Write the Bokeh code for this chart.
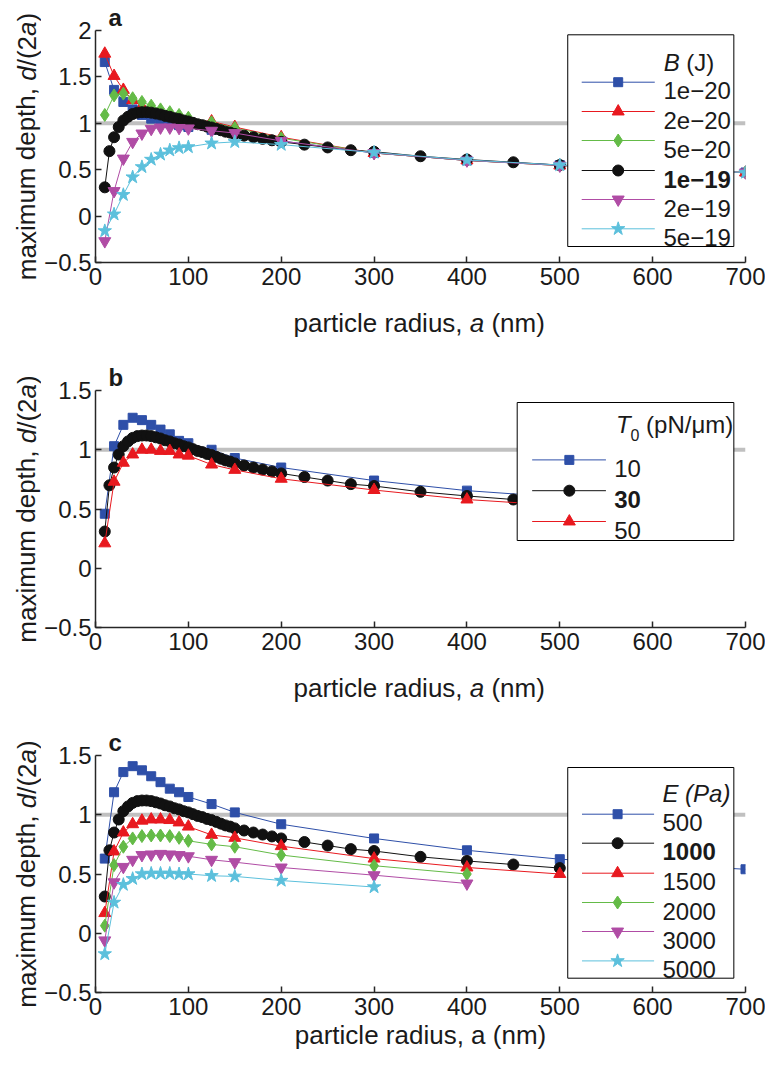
import math
from bokeh.plotting import figure
from bokeh.layouts import column, row
from bokeh.models import Range1d, FixedTicker, Span, ColumnDataSource, CustomJSTickFormatter
from bokeh.core.properties import value
from bokeh.embed import file_html
from bokeh.resources import INLINE

# ---------------- data ----------------
X_SPARSE = [10, 20, 30, 40, 50, 60, 70, 80, 90, 100, 125, 150, 200, 300, 400, 500, 700]
X_DENSE = [10, 15, 20, 25, 30, 35, 40, 45, 50, 55, 60, 65, 70, 75, 80, 85, 90, 95, 100,
           105, 110, 115, 120, 125, 130, 135, 140, 145, 150, 160, 170, 180, 190, 200,
           225, 250, 275, 300, 350, 400, 450, 500]
# reference case (B = 1e-19 J, T0 = 30 pN/um, E = 1000 Pa), shown in every panel
Y_REF = [0.31, 0.70, 0.85, 0.96, 1.03, 1.07, 1.10, 1.115, 1.12, 1.12, 1.115, 1.105, 1.095,
         1.08, 1.07, 1.055, 1.045, 1.03, 1.02, 1.005, 0.99, 0.98, 0.965, 0.955, 0.94, 0.925,
         0.91, 0.90, 0.885, 0.867, 0.85, 0.833, 0.817, 0.80, 0.77, 0.74, 0.71, 0.694, 0.645,
         0.61, 0.58, 0.55]

# panel a: B (J)
a_1e20 = [1.66, 1.36, 1.23, 1.15, 1.09, 1.05, 1.02, 1.00, 0.98, 0.96, 0.93, 0.89, 0.81, 0.68, 0.60, 0.55, 0.47]
a_2e20 = [1.75, 1.51, 1.36, 1.25, 1.18, 1.14, 1.11, 1.08, 1.06, 1.04, 1.02, 0.96, 0.85, 0.68, 0.60, 0.545, 0.47]
a_5e20 = [1.09, 1.30, 1.32, 1.27, 1.23, 1.19, 1.15, 1.12, 1.09, 1.06, 1.01, 0.95, 0.84, 0.68, 0.60, 0.545, 0.47]
a_2e19 = [-0.27, 0.27, 0.62, 0.80, 0.89, 0.94, 0.955, 0.955, 0.95, 0.945, 0.92, 0.895, 0.81, 0.68, 0.60, 0.545, 0.47]
a_5e19 = [-0.16, 0.02, 0.23, 0.42, 0.53, 0.61, 0.665, 0.71, 0.735, 0.745, 0.785, 0.80, 0.77, 0.685, 0.605, 0.55, 0.47]
a_labels = ["1e\u221220", "2e\u221220", "5e\u221220", "1e\u221219", "2e\u221219", "5e\u221219"]

# panel b: T0 (pN/um)
b_10 = [0.46, 1.03, 1.21, 1.27, 1.25, 1.21, 1.17, 1.13, 1.075, 1.055, 1.0, 0.93, 0.85, 0.74, 0.655, 0.60]
b_50 = [0.21, 0.73, 0.89, 0.96, 1.0, 1.0, 0.99, 0.99, 0.96, 0.95, 0.875, 0.83, 0.755, 0.66, 0.58, 0.53]
b_labels = ["10", "30", "50"]

# panel c: E (Pa)
c_500 = [0.63, 1.19, 1.36, 1.41, 1.375, 1.325, 1.275, 1.22, 1.19, 1.15, 1.09, 1.02, 0.92, 0.80, 0.70, 0.625, 0.54]
c_1500 = [0.17, 0.69, 0.85, 0.92, 0.95, 0.96, 0.96, 0.955, 0.935, 0.90, 0.83, 0.805, 0.735, 0.63, 0.555, 0.50]
c_2000 = [0.064, 0.575, 0.73, 0.80, 0.82, 0.825, 0.825, 0.82, 0.805, 0.78, 0.75, 0.73, 0.66, 0.57, 0.50]
c_3000 = [-0.06, 0.43, 0.56, 0.62, 0.66, 0.665, 0.67, 0.665, 0.66, 0.65, 0.62, 0.60, 0.555, 0.49, 0.42]
c_5000 = [-0.175, 0.26, 0.41, 0.46, 0.50, 0.505, 0.505, 0.505, 0.50, 0.50, 0.485, 0.48, 0.445, 0.39]
c_labels = ["500", "1000", "1500", "2000", "3000", "5000"]

X_TICKS = [0, 100, 200, 300, 400, 500, 600, 700]
X_TICK_LABELS = ["0", "100", "200", "300", "400", "500", "600", "700"]
YA_TICKS = [-0.5, 0, 0.5, 1, 1.5, 2]
YA_TICK_LABELS = ["\u22120.5", "0", "0.5", "1", "1.5", "2"]
YBC_TICKS = [-0.5, 0, 0.5, 1, 1.5]
YBC_TICK_LABELS = ["\u22120.5", "0", "0.5", "1", "1.5"]

X_TITLE = [("particle radius, ", "normal"), ("a", "italic"), (" (nm)", "normal")]
X_TITLE_PLAIN = "particle radius, a (nm)"
Y_TITLE = [("maximum depth, ", "normal"), ("d", "italic"), ("/(2", "normal"),
           ("a", "italic"), (")", "normal")]

# ---------------- style ----------------
FONT = "Liberation Sans"
FS = 24          # ticks, legends, panel letters
FT = 26          # axis titles
TXT = "#1a1a1a"
AX = "#262626"
BLUE, RED, GREEN, BLACK, MAG, CYAN = "#2e4fa8", "#e8191f", "#64bb47", "#111111", "#b04ca5", "#5cc0dc"
MK = {BLUE: ("square", 9), RED: ("triangle", 12), GREEN: ("diamond", 13),
      BLACK: ("circle", 11), MAG: ("inverted_triangle", 12), CYAN: ("star", 14)}

FW = 652
LEFT, RIGHT, BOTTOM, BOTTOM_C = 52, 20, 40, 72
MAIN_W = LEFT + FW + RIGHT
YSTRIP_W = 41
TOP_A, TOP_BC = 30, 30
FH_A, FH_B, FH_C = 232, 237, 237
H_MID = 58
XT_BELOW = 60     # baseline of the x-axis titles below the x axis

ADV = {' ': 278, ',': 278, '(': 333, ')': 333, '/': 278, 'a': 556, 'c': 500, 'd': 556,
       'e': 556, 'h': 556, 'i': 222, 'l': 222, 'm': 833, 'n': 556, 'p': 556, 'r': 333,
       's': 500, 't': 278, 'u': 556, 'x': 500, 'B': 667, 'E': 667, 'J': 500, 'N': 722,
       'P': 667, 'T': 611}


def tw(s, size=FS):
    return sum(ADV.get(ch, 556) for ch in s) * size / 1000.0


def compose(pieces, size):
    """return [(text, style, offset)] with spaces turned into offsets, and total width"""
    out, off = [], 0.0
    for txt, st in pieces:
        core = txt.strip(" ")
        lead = len(txt) - len(txt.lstrip(" "))
        out.append((core, st, off + tw(" " * lead, size)))
        off += tw(txt, size)
    return out, off


def strip(w, h, items):
    """text-only figure; items: (text, style, size_px, x, y_from_bottom, angle)"""
    s = figure(width=w, height=h, x_range=Range1d(0, w), y_range=Range1d(0, h),
               x_axis_type=None, y_axis_type=None, output_backend="svg",
               toolbar_location=None, title=None, min_border=0, min_border_left=0,
               min_border_right=0, min_border_top=0, min_border_bottom=0,
               frame_align=False)
    s.outline_line_color = None
    s.background_fill_color = "white"
    s.border_fill_color = "white"
    if items:
        src = ColumnDataSource(dict(text=[i[0] for i in items], style=[i[1] for i in items],
                                    fs=[f"{i[2]}px" for i in items], x=[i[3] for i in items],
                                    y=[i[4] for i in items], ang=[i[5] for i in items]))
        s.text(x="x", y="y", text="text", angle="ang", text_font_style="style",
               text_font_size="fs", source=src, text_font=value(FONT), text_color=TXT,
               text_align="left", text_baseline="alphabetic")
    return s


def make_fig(letter, ylo, yhi, yticks, ylabels, fh, top, bottom):
    p = figure(width=MAIN_W, height=top + fh + bottom,
               x_range=Range1d(0, 700), y_range=Range1d(ylo, yhi),
               output_backend="svg", toolbar_location=None, title=letter,
               min_border_left=LEFT, min_border_right=RIGHT,
               min_border_top=top, min_border_bottom=bottom, frame_align=False)
    p.title.align = "left"
    p.title.offset = 13
    p.title.standoff = 0
    p.title.text_font = FONT
    p.title.text_font_size = f"{FS}px"
    p.title.text_font_style = "bold"
    p.title.text_color = TXT
    p.extra_x_ranges = {"px": Range1d(0, FW)}
    p.extra_y_ranges = {"py": Range1d(fh, 0)}
    p.xgrid.visible = False
    p.ygrid.visible = False
    p.outline_line_color = None
    p.background_fill_color = "white"
    p.border_fill_color = "white"
    p.xaxis.ticker = FixedTicker(ticks=X_TICKS)
    p.yaxis.ticker = FixedTicker(ticks=yticks)
    code = ("const i = tv.findIndex(v => Math.abs(v - tick) < 1e-9);"
            "return i >= 0 ? lv[i] : String(tick);")
    p.xaxis.formatter = CustomJSTickFormatter(args=dict(tv=X_TICKS, lv=X_TICK_LABELS), code=code)
    p.yaxis.formatter = CustomJSTickFormatter(args=dict(tv=yticks, lv=ylabels), code=code)
    for ax in (p.xaxis[0], p.yaxis[0]):
        ax.axis_line_color = AX
        ax.axis_line_width = 1.5
        ax.major_tick_line_color = AX
        ax.major_tick_line_width = 1.5
        ax.major_tick_in = 6
        ax.major_tick_out = 0
        ax.minor_tick_line_color = None
        ax.major_label_text_font = FONT
        ax.major_label_text_font_size = f"{FS}px"
        ax.major_label_text_color = TXT
    p.xaxis.major_label_standoff = 5
    p.yaxis.major_label_standoff = 4
    p.add_layout(Span(location=1, dimension="width", line_color="#c0c0c0",
                      line_width=4, level="underlay"))
    return p


def plot_series(p, xs, ys, color):
    p.line(xs, ys, line_color=color, line_width=1)
    m, s = MK[color]
    p.scatter(xs, ys, marker=m, size=s, fill_color=color, line_color=color)


def draw_legend(p, box, line_x, marker_x, text_x, rows, labels, colors, bold_idx, title_items):
    l, r, t, b = box
    kw = dict(x_range_name="px", y_range_name="py")
    p.quad(left=[l], right=[r], top=[t], bottom=[b], fill_color="white",
           line_color="black", line_width=1, **kw)
    n = len(labels)
    p.segment(x0=[line_x[0]] * n, y0=rows, x1=[line_x[1]] * n, y1=rows,
              line_color=colors, line_width=1, **kw)
    src = ColumnDataSource(dict(x=[marker_x] * n, y=rows, c=colors,
                                m=[MK[c][0] for c in colors], s=[MK[c][1] for c in colors]))
    p.scatter(x="x", y="y", marker="m", size="s", fill_color="c", line_color="c", source=src, **kw)
    tsrc = ColumnDataSource(dict(x=[text_x] * n, y=[rv + 8.5 for rv in rows], text=labels,
                                 style=["bold" if i == bold_idx else "normal" for i in range(n)]))
    p.text(x="x", y="y", text="text", text_font_style="style", source=tsrc,
           text_font=value(FONT), text_font_size=value(f"{FS}px"), text_color=TXT,
           text_align="left", text_baseline="alphabetic", **kw)
    tt = ColumnDataSource(dict(text=[q[0] for q in title_items], style=[q[1] for q in title_items],
                               fs=[f"{q[2]}px" for q in title_items], x=[q[3] for q in title_items],
                               y=[q[4] for q in title_items]))
    p.text(x="x", y="y", text="text", text_font_style="style", text_font_size="fs", source=tt,
           text_font=value(FONT), text_color=TXT, text_align="left",
           text_baseline="alphabetic", **kw)


# ---------------- panel a ----------------
pa = make_fig("a", -0.5, 2.0, YA_TICKS, YA_TICK_LABELS, FH_A, TOP_A, BOTTOM)
a_cols = [BLUE, RED, GREEN, BLACK, MAG, CYAN]
for ys, col in zip([a_1e20, a_2e20, a_5e20, None, a_2e19, a_5e19], a_cols):
    if ys is None:
        plot_series(pa, X_DENSE, Y_REF, col)
    else:
        plot_series(pa, X_SPARSE[:len(ys)], ys, col)
ta = [("B", "italic", FS, 570, 31.7), ("(J)", "normal", FS, 570 + tw("B "), 31.7)]
draw_legend(pa, (473.7, 640.3, 4.3, 216), (487.7, 561.0), 524.3, 569.7,
            [51.7, 81, 110, 140, 169, 198.3], a_labels, a_cols, 3, ta)

# ---------------- panel b ----------------
pb = make_fig("b", -0.5, 1.5, YBC_TICKS, YBC_TICK_LABELS, FH_B, TOP_BC, BOTTOM)
plot_series(pb, X_SPARSE[:len(b_10)], b_10, BLUE)
plot_series(pb, X_DENSE, Y_REF, BLACK)
plot_series(pb, X_SPARSE[:len(b_50)], b_50, RED)
tb = [("T", "italic", FS, 522, 34.4), ("0", "normal", 16, 522 + tw("T"), 44.4),
      ("(pN/\u03bcm)", "normal", FS, 522 + tw("T") + tw("0", 16) + tw(" "), 34.4)]
draw_legend(pb, (423, 640.3, 12, 150), (438, 512), 475.3, 520.3,
            [69.4, 100.2, 131], b_labels, [BLUE, BLACK, RED], 1, tb)

# ---------------- panel c ----------------
pc = make_fig("c", -0.5, 1.5, YBC_TICKS, YBC_TICK_LABELS, FH_C, TOP_BC, BOTTOM_C)
pc.xaxis.axis_label = X_TITLE_PLAIN
pc.xaxis.axis_label_standoff = 2
pc.xaxis.axis_label_text_font = FONT
pc.xaxis.axis_label_text_font_size = f"{FT}px"
pc.xaxis.axis_label_text_font_style = "normal"
pc.xaxis.axis_label_text_color = TXT
c_cols = [BLUE, BLACK, RED, GREEN, MAG, CYAN]
for ys, col in zip([c_500, None, c_1500, c_2000, c_3000, c_5000], c_cols):
    if ys is None:
        plot_series(pc, X_DENSE, Y_REF, col)
    else:
        plot_series(pc, X_SPARSE[:len(ys)], ys, col)
tc = [("E", "italic", FS, 568.7, 38.4), ("(Pa)", "italic", FS, 568.7 + tw("E "), 38.4)]
draw_legend(pc, (473.7, 640.3, 12, 222.7), (488, 560.3), 523.7, 568.7,
            [58.7, 87.7, 117.7, 147, 176, 205.4], c_labels, c_cols, 1, tc)

# ---------------- text strips (axis titles) ----------------
XT_LEFT = LEFT + 200          # left edge of x-axis title inside strip
xt, _ = compose(X_TITLE, FT)


def xtitle_items(strip_h):
    y = strip_h - (XT_BELOW - BOTTOM)
    return [(t, st, FT, XT_LEFT + off, y, 0.0) for t, st, off in xt]


s_ab = strip(MAIN_W, H_MID, xtitle_items(H_MID))
s_bc = strip(MAIN_W, H_MID, xtitle_items(H_MID))

HA, HB, HC = TOP_A + FH_A + BOTTOM, TOP_BC + FH_B + BOTTOM, TOP_BC + FH_C + BOTTOM_C
TOTAL_H = HA + H_MID + HB + H_MID + HC
yt, ylen = compose(Y_TITLE, FT)
centers_from_top = [TOP_A + FH_A / 2,
                    HA + H_MID + TOP_BC + FH_B / 2,
                    HA + H_MID + HB + H_MID + TOP_BC + FH_C / 2]
y_items = []
for cft in centers_from_top:
    start = (TOTAL_H - cft) - ylen / 2
    for t, st, off in yt:
        y_items.append((t, st, FT, 26, start + off, math.pi / 2))
s_left = strip(YSTRIP_W, TOTAL_H, y_items)

layout = row(s_left, column(pa, s_ab, pb, s_bc, pc, spacing=0), spacing=0)
open("out.html", "w").write(file_html(layout, INLINE))
